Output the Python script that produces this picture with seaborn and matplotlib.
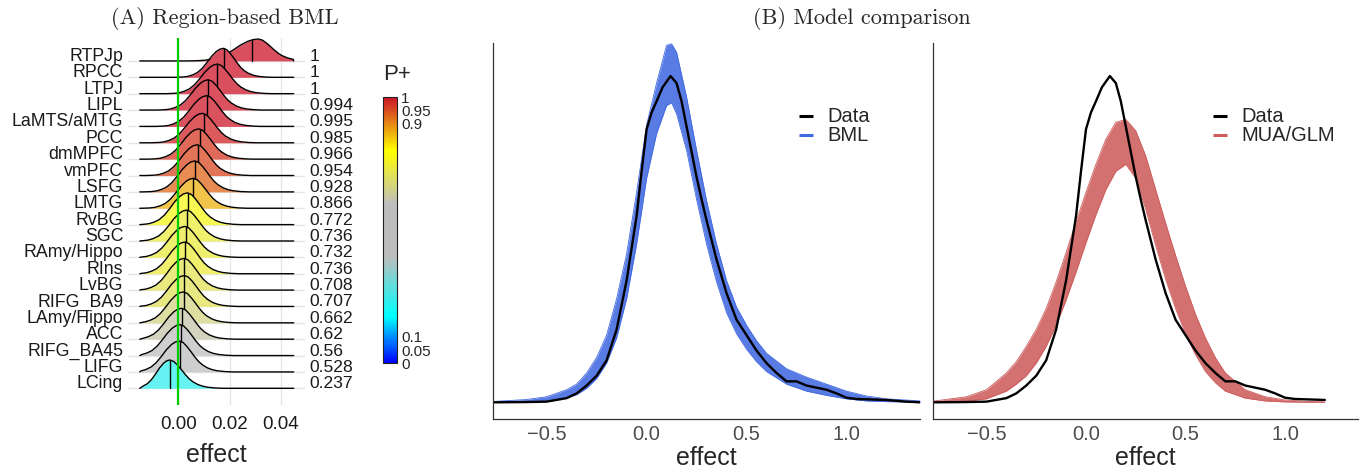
import numpy as np
import pandas as pd
import matplotlib
matplotlib.use('Agg')
import matplotlib.pyplot as plt
import matplotlib.transforms as mtransforms
from matplotlib.colors import LinearSegmentedColormap, Normalize
from matplotlib.cm import ScalarMappable
import seaborn as sns

sns.set_theme(style='white')
plt.rcParams['font.family'] = ['Liberation Sans', 'DejaVu Sans']
plt.rcParams['axes.unicode_minus'] = True

# ---------------- (A) region-based BML: ridge data ----------------
regions = ['RTPJp', 'RPCC', 'LTPJ', 'LIPL', 'LaMTS/aMTG', 'PCC', 'dmMPFC', 'vmPFC',
           'LSFG', 'LMTG', 'RvBG', 'SGC', 'RAmy/Hippo', 'RIns', 'LvBG', 'RIFG_BA9',
           'LAmy/Hippo', 'ACC', 'RIFG_BA45', 'LIFG', 'LCing']
p_plus = [1.0, 1.0, 1.0, 0.994, 0.995, 0.985, 0.966, 0.954, 0.928, 0.866, 0.772, 0.736,
          0.732, 0.736, 0.708, 0.707, 0.662, 0.62, 0.56, 0.528, 0.237]
p_text = ['1', '1', '1', '0.994', '0.995', '0.985', '0.966', '0.954', '0.928', '0.866',
          '0.772', '0.736', '0.732', '0.736', '0.708', '0.707', '0.662', '0.62', '0.56',
          '0.528', '0.237']
# mode, median, peak height (in rows) and left/right spread of each posterior
ridge_peak = [0.0312, 0.0176, 0.0153, 0.0117, 0.0111, 0.0094, 0.0080, 0.0074, 0.0065,
              0.0059, 0.0036, 0.0033, 0.0026, 0.0026, 0.0023, 0.0024, 0.0020, 0.0013,
              0.0007, 0.0004, -0.0033]
ridge_median = [0.0287, 0.0177, 0.0151, 0.0117, 0.0113, 0.0100, 0.0083, 0.0076, 0.0065,
                0.0059, 0.0039, 0.0033, 0.0029, 0.0026, 0.0023, 0.0024, 0.0022, 0.0016,
                0.0010, 0.0007, -0.0033]
ridge_height = [1.34, 1.77, 1.81, 1.85, 1.88, 1.80, 1.85, 1.88, 1.89, 1.83, 1.94, 1.89,
                1.89, 1.94, 1.94, 1.89, 1.89, 1.89, 1.89, 1.89, 1.73]
ridge_wl = [1.4, 0.93, 1, 1, 1, 1, 1, 1, 1, 1, 1, 1, 1, 1, 1, 1, 1, 1, 1, 1, 0.8]
ridge_wr = [1.05, 0.9, 1, 1, 1, 1, 1, 1, 1, 1, 1, 1, 1, 1, 1, 1, 1, 1, 1, 1, 1.0]
# outline of a typical ridge (LMTG), offset from the mode and relative height
shape_dx = [-0.020, -0.017, -0.015, -0.013, -0.011, -0.009, -0.007, -0.005, -0.003,
            -0.0015, 0.0, 0.0015, 0.003, 0.0045, 0.006, 0.0075, 0.009, 0.011, 0.013,
            0.015, 0.018, 0.021]
shape_h = [0.0, 0.01, 0.03, 0.08, 0.16, 0.30, 0.50, 0.72, 0.89, 0.97, 1.0, 0.95, 0.82,
           0.66, 0.49, 0.34, 0.23, 0.13, 0.07, 0.035, 0.01, 0.0]

# ---------------- (B) model comparison: densities ----------------
dens_x = [-0.77, -0.6, -0.5, -0.4, -0.35, -0.3, -0.25, -0.2, -0.15, -0.1, -0.075, -0.05,
          -0.025, 0.0, 0.025, 0.05, 0.08, 0.1, 0.12, 0.15, 0.175, 0.2, 0.225, 0.25, 0.275,
          0.3, 0.35, 0.4, 0.45, 0.5, 0.55, 0.6, 0.65, 0.7, 0.75, 0.8, 0.9, 0.95, 1.0,
          1.05, 1.2, 1.3, 1.37]
dens_data = [0.0, 0.002, 0.005, 0.03, 0.064, 0.12, 0.19, 0.30, 0.52, 0.87, 1.10, 1.33,
             1.65, 1.95, 2.07, 2.15, 2.25, 2.29, 2.33, 2.28, 2.15, 1.97, 1.79, 1.61, 1.45,
             1.30, 1.02, 0.78, 0.59, 0.48, 0.37, 0.28, 0.21, 0.15, 0.15, 0.12, 0.09,
             0.064, 0.033, 0.024, 0.017, 0.005, 0.0]

bml_x = [-0.77, -0.6, -0.5, -0.4, -0.35, -0.3, -0.25, -0.2, -0.15, -0.1, -0.05, 0.0, 0.05,
         0.1, 0.125, 0.15, 0.2, 0.25, 0.3, 0.35, 0.4, 0.45, 0.5, 0.55, 0.6, 0.7, 0.8, 0.9,
         1.0, 1.1, 1.2, 1.37]
bml_lo = [0.0, 0.003, 0.01, 0.03, 0.055, 0.10, 0.17, 0.28, 0.46, 0.74, 1.13, 1.60, 1.92,
          2.12, 2.14, 2.06, 1.80, 1.45, 1.13, 0.86, 0.64, 0.49, 0.38, 0.29, 0.22, 0.13,
          0.08, 0.05, 0.025, 0.01, 0.005, 0.001]
bml_hi = [0.006, 0.02, 0.04, 0.09, 0.13, 0.21, 0.32, 0.48, 0.74, 1.06, 1.50, 1.98, 2.28,
          2.55, 2.56, 2.50, 2.18, 1.80, 1.44, 1.13, 0.87, 0.68, 0.55, 0.44, 0.35, 0.24,
          0.18, 0.13, 0.08, 0.045, 0.025, 0.01]

mua_x = [-0.77, -0.6, -0.5, -0.4, -0.35, -0.3, -0.25, -0.2, -0.15, -0.1, -0.05, 0.0, 0.05,
         0.1, 0.15, 0.2, 0.25, 0.3, 0.35, 0.4, 0.45, 0.5, 0.55, 0.6, 0.65, 0.7, 0.8, 0.9,
         1.0, 1.1, 1.2]
mua_lo = [0.0, 0.008, 0.025, 0.08, 0.13, 0.19, 0.28, 0.40, 0.55, 0.73, 0.93, 1.14, 1.34,
          1.52, 1.65, 1.70, 1.60, 1.38, 1.12, 0.88, 0.67, 0.49, 0.34, 0.22, 0.14, 0.08,
          0.03, 0.01, 0.003, 0.001, 0.0]
mua_hi = [0.008, 0.04, 0.09, 0.21, 0.29, 0.40, 0.52, 0.67, 0.86, 1.07, 1.29, 1.50, 1.70,
          1.88, 2.00, 2.02, 1.94, 1.76, 1.52, 1.28, 1.05, 0.83, 0.63, 0.46, 0.32, 0.21,
          0.09, 0.04, 0.017, 0.007, 0.003]

# ---------------- figure layout (pixel boxes) ----------------
W, H = 1361, 468
fig = plt.figure(figsize=(W / 100, H / 100), dpi=100)


def box(x0, y0, x1, y1):
    return [x0 / W, 1 - y1 / H, (x1 - x0) / W, (y1 - y0) / H]


p_cmap = LinearSegmentedColormap.from_list(
    'pplus', [(0, 'blue'), (0.175, 'cyan'), (0.4, '#bebebe'), (0.6, '#bebebe'),
              (0.8, 'yellow'), (1, '#cd1428')])

# ---- panel A ----
axA = fig.add_axes(box(128, 37.7, 305, 405))
x_lo, x_hi = -0.015, 0.045
n = len(regions)
sdx = np.array(shape_dx)
sh = np.array(shape_h)
for b in range(n):
    axA.axhline(b, color='#e6e6e6', lw=1, zorder=1)
for v in [0.0, 0.02, 0.04]:
    axA.axvline(v, color='#e6e6e6', lw=1, zorder=1)

for i, reg in enumerate(regions):
    base = n - 1 - i
    dx = np.where(sdx < 0, sdx * ridge_wl[i], sdx * ridge_wr[i])
    xs = ridge_peak[i] + dx
    hs = sh * ridge_height[i]
    keep = (xs > x_lo) & (xs < x_hi)
    xs = np.concatenate([[x_lo], xs[keep], [x_hi]])
    hs = np.concatenate([[0.0], hs[keep], [0.0]])
    rgb = np.array(p_cmap(float(p_plus[i]))[:3])
    fill = 0.75 * rgb + 0.25
    z = 2 + i
    axA.fill_between(xs, base, base + hs, color=fill, lw=0, zorder=z)
    axA.plot(xs, base + hs, color='black', lw=1.0, zorder=z + 0.5)
    hm = np.interp(ridge_median[i], xs, hs)
    axA.plot([ridge_median[i]] * 2, [base, base + hm], color='black', lw=1.0, zorder=z + 0.5)

axA.axvline(0, color='#00cc00', lw=1.6, zorder=100)
axA.set_xlim(-0.0196, 0.0494)
axA.set_ylim(-1.02, 21.42)
axA.set_yticks([])
axA.set_xticks([0, 0.02, 0.04])
axA.set_xticklabels(['0.00', '0.02', '0.04'])
axA.tick_params(axis='x', length=0, labelsize=13.5, pad=8, labelcolor='#1a1a1a')
axA.set_xlabel('effect', fontsize=18, labelpad=7)
for s in axA.spines.values():
    s.set_visible(False)

trans = mtransforms.blended_transform_factory(axA.transAxes, axA.transData)
for i, reg in enumerate(regions):
    base = n - 1 - i
    axA.text(-0.027, base, reg, transform=trans, ha='right', va='baseline',
             fontsize=12.8, color='#1a1a1a')
    axA.text(1.024, base, p_text[i], transform=trans, ha='left', va='baseline',
             fontsize=12.6, color='#1a1a1a')

# colour bar for P+
cax = fig.add_axes(box(383, 97.3, 397, 363.3))
sm = ScalarMappable(norm=Normalize(0, 1), cmap=p_cmap)
cb = fig.colorbar(sm, cax=cax)
cb.set_ticks([0, 0.05, 0.1, 0.9, 0.95, 1])
cb.set_ticklabels(['0', '0.05', '0.1', '0.9', '0.95', '1'])
cb.outline.set_linewidth(0.8)
cb.outline.set_edgecolor('#222222')
cax.tick_params(left=True, right=True, direction='in', length=3, width=0.6,
                color='#444444', labelsize=11, pad=3)
fig.text(383 / W, 1 - 75 / H, 'P+', fontsize=16, ha='left', va='center')

# ---- panel B ----
axB1 = fig.add_axes(box(493.3, 43.3, 920, 419))
axB2 = fig.add_axes(box(933.3, 43.3, 1358.3, 419))

data_df = pd.DataFrame({'effect': dens_x, 'density': dens_data})

axB1.fill_between(bml_x, bml_lo, bml_hi, color='#4169e1', alpha=0.88, lw=0)
sns.lineplot(x=bml_x, y=bml_lo, ax=axB1, color='#4169e1', lw=0.6)
sns.lineplot(x=bml_x, y=bml_hi, ax=axB1, color='#4169e1', lw=0.6)
sns.lineplot(data=data_df, x='effect', y='density', ax=axB1, color='black', lw=1.7)

axB2.fill_between(mua_x, mua_lo, mua_hi, color='#cd5c5c', alpha=0.88, lw=0)
sns.lineplot(x=mua_x, y=mua_lo, ax=axB2, color='#cd5c5c', lw=0.6)
sns.lineplot(x=mua_x, y=mua_hi, ax=axB2, color='#cd5c5c', lw=0.6)
sns.lineplot(data=data_df[data_df['effect'] <= 1.2], x='effect', y='density', ax=axB2,
             color='black', lw=1.7)

for ax, lab, col, lx in [(axB1, 'BML', '#4169e1', (0.716, 0.749, 0.784)),
                         (axB2, 'MUA/GLM', '#cd5c5c', (0.658, 0.691, 0.726))]:
    ax.set_xlim(-0.767, 1.368)
    ax.set_ylim(-0.119, 2.564)
    ax.set_yticks([])
    ax.set_ylabel('')
    ax.set_xticks([-0.5, 0, 0.5, 1.0])
    ax.set_xticklabels(['\u22120.5', '0.0', '0.5', '1.0'])
    ax.tick_params(axis='x', length=0, labelsize=14.5, pad=4, labelcolor='#4d4d4d')
    ax.set_xlabel('effect', fontsize=18, labelpad=2)
    for s in ['top', 'right']:
        ax.spines[s].set_visible(False)
    for s in ['left', 'bottom']:
        ax.spines[s].set_color('#333333')
        ax.spines[s].set_linewidth(0.9)
    # legend
    for yy, name, c in [(0.806, 'Data', 'black'), (0.755, lab, col)]:
        ax.plot([lx[0], lx[1]], [yy, yy], transform=ax.transAxes, color=c, lw=2.2,
                solid_capstyle='butt')
        ax.text(lx[2], yy, name, transform=ax.transAxes, fontsize=14.5, va='center',
                ha='left')

# panel titles
fig.text(225 / W, 1 - 18 / H, '(A) Region-based BML', fontsize=16, ha='center',
         va='center', family=['cmr10', 'DejaVu Serif'])
fig.text(862 / W, 1 - 18 / H, '(B) Model comparison', fontsize=16, ha='center',
         va='center', family=['cmr10', 'DejaVu Serif'])

fig.savefig('out.png', dpi=100)
